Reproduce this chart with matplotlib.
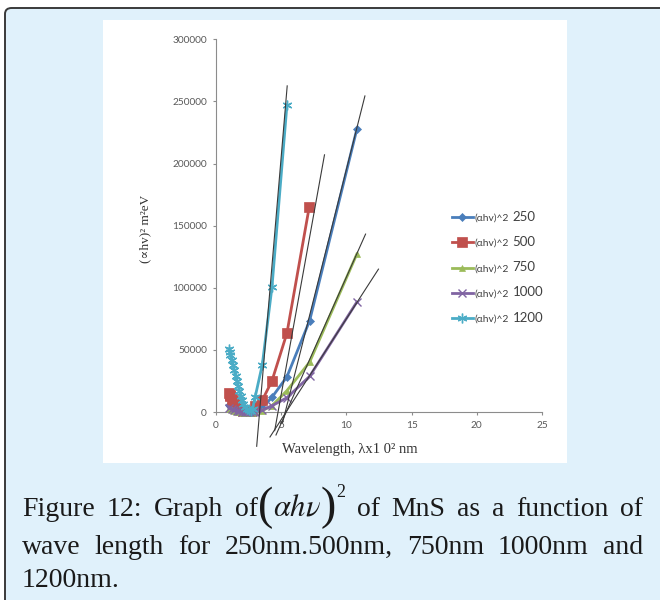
import matplotlib
matplotlib.use("Agg")
import matplotlib.pyplot as plt
from matplotlib.patches import FancyBboxPatch, Rectangle

# ---------------- data ----------------
series_labels = ["250", "500", "750", "1000", "1200"]
legend_prefix = "(\u03b1hv)^2"

x_250 = [1.0, 1.1, 1.2, 1.3, 1.5, 1.7, 1.9, 2.1, 2.3, 2.5, 2.7, 3.0, 3.55, 4.29, 5.44, 7.18, 10.8]
y_250 = [6000, 5200, 4400, 3600, 2600, 1800, 1200, 800, 500, 400, 500, 900, 3500, 11800, 28400, 73500, 227600]

x_500 = [1.0, 1.05, 1.1, 1.2, 1.3, 1.4, 1.5, 1.7, 1.9, 2.1, 2.3, 2.5, 2.7, 3.0, 3.55, 4.29, 5.44, 7.15]
y_500 = [15500, 14000, 12500, 10500, 9000, 7500, 6000, 3500, 2000, 1200, 800, 700, 1200, 5000, 9500, 25000, 63500, 165000]

x_750 = [1.0, 1.2, 1.4, 1.6, 1.8, 2.0, 2.2, 2.4, 2.6, 2.8, 3.0, 3.55, 4.29, 5.44, 7.18, 10.8]
y_750 = [2500, 1500, 800, 200, -300, -800, -1000, -1000, -900, -600, -200, 1200, 5000, 17200, 40200, 127100]

x_1000 = [1.0, 1.2, 1.4, 1.6, 1.8, 2.0, 2.2, 2.4, 2.6, 2.8, 3.0, 3.55, 4.29, 5.44, 7.18, 10.8]
y_1000 = [3500, 2500, 1700, 1000, 500, 100, -200, -300, -300, -200, 0, 1500, 5000, 11500, 28700, 88500]

x_1200 = [1.0, 1.05, 1.1, 1.2, 1.3, 1.4, 1.5, 1.6, 1.7, 1.8, 1.9, 2.0, 2.1, 2.2, 2.35, 2.5, 2.65, 2.8, 3.0, 3.55, 4.29, 5.44]
y_1200 = [51000, 48500, 46000, 42000, 38000, 33500, 29000, 25000, 21000, 17000, 13000, 9500, 6500, 4000, 2200, 1400, 1200, 2500, 12000, 38000, 100300, 247200]

# straight-line fits drawn over the data (end points)
fit_250_x = [5.1, 11.42]
fit_250_y = [-8800, 254400]
fit_500_x = [4.5, 8.32]
fit_500_y = [-15000, 207000]
fit_750_x = [4.6, 11.47]
fit_750_y = [-18500, 143200]
fit_1000_x = [4.14, 12.46]
fit_1000_y = [-20100, 115000]
fit_1200_x = [3.12, 5.46]
fit_1200_y = [-27600, 262500]

x_ticks = [0, 5, 10, 15, 20, 25]
y_ticks = [0, 50000, 100000, 150000, 200000, 250000, 300000]

# ---------------- figure ----------------
W, H = 660, 600
plt.rcParams["mathtext.fontset"] = "stix"
fig = plt.figure(figsize=(W / 100, H / 100), dpi=100)
fig.patch.set_facecolor("white")

def fx(px):
    return px / W

def fy(py):
    return 1 - py / H

# outer light-blue frame
frame = FancyBboxPatch((fx(5), fy(640)), fx(700) - fx(5), fy(8) - fy(640),
                       boxstyle="round,pad=0,rounding_size=0.01",
                       transform=fig.transFigure, facecolor="#E0F1FB",
                       edgecolor="#3a3a3a", linewidth=1.4, zorder=0)
fig.patches.append(frame)
# white chart area
fig.patches.append(Rectangle((fx(103), fy(463)), fx(567) - fx(103), fy(20) - fy(463),
                             transform=fig.transFigure, facecolor="white",
                             edgecolor="none", zorder=0.5))

ax_l, ax_r, ax_t, ax_b = 216, 542, 39.3, 412
ax = fig.add_axes([fx(ax_l), fy(ax_b), fx(ax_r) - fx(ax_l), fy(ax_t) - fy(ax_b)])
ax.set_facecolor("none")
ax.set_zorder(2)

colors = ["#4A7EBB", "#C0504D", "#9BBB59", "#8064A2", "#4BACC6"]
markers = ["D", "s", "^", "x", (6, 2, 0)]
msizes = [4.0, 6.5, 5.0, 5.5, 7.0]
xs = [x_250, x_500, x_750, x_1000, x_1200]
ys = [y_250, y_500, y_750, y_1000, y_1200]

handles = []
for x, y, c, m, s in zip(xs, ys, colors, markers, msizes):
    mew = 1.0 if m in ("x",) or isinstance(m, tuple) else 0.5
    h, = ax.plot(x, y, color=c, lw=2.0, marker=m, ms=s, mec=c, mfc=c, mew=mew,
                 clip_on=False, zorder=3)
    handles.append(h)

for fxv, fyv in [(fit_250_x, fit_250_y), (fit_500_x, fit_500_y), (fit_750_x, fit_750_y),
                 (fit_1000_x, fit_1000_y), (fit_1200_x, fit_1200_y)]:
    ax.plot(fxv, fyv, color="#3a3a3a", lw=0.8, clip_on=False, zorder=4)

ax.set_xlim(0, 25)
ax.set_ylim(0, 300000)
ax.set_xticks(x_ticks)
ax.set_yticks(y_ticks)
ax.set_xticklabels([str(v) for v in x_ticks])
ax.set_yticklabels([str(v) for v in y_ticks])
for sp in ("top", "right"):
    ax.spines[sp].set_visible(False)
for sp in ("left", "bottom"):
    ax.spines[sp].set_color("#8c8c8c")
    ax.spines[sp].set_linewidth(0.8)
ax.tick_params(axis="both", colors="#8c8c8c", length=2.5, width=0.8, labelcolor="#595959",
               labelsize=7.3, pad=4)
for lab in ax.get_xticklabels() + ax.get_yticklabels():
    lab.set_family("Lato")

ax.set_ylabel("(\u221dhv)\u00b2 m\u00b2eV", family=["Liberation Serif", "DejaVu Serif"],
              fontsize=9.5, color="#333333")
ax.yaxis.set_label_coords((145 - ax_l) / (ax_r - ax_l), (ax_b - 229) / (ax_b - ax_t))
ax.yaxis.label.set_va("center")
ax.set_xlabel("Wavelength, \u03bbx1 0\u00b2 nm", family=["Liberation Serif", "DejaVu Serif"],
              fontsize=10.5, color="#333333")
ax.xaxis.set_label_coords((350 - ax_l) / (ax_r - ax_l), -(450 - ax_b) / (ax_b - ax_t))
ax.xaxis.label.set_va("center")

leg = ax.legend(handles, [legend_prefix] * 5, loc="upper left",
                bbox_to_anchor=((452 - ax_l) / (ax_r - ax_l), (ax_b - 213.5) / (ax_b - ax_t)),
                frameon=False, handlelength=2.0, handletextpad=0.15, labelspacing=1.56,
                borderpad=0, borderaxespad=0, prop={"family": "Lato", "size": 7.4})
for t in leg.get_texts():
    t.set_color("#404040")

fig.canvas.draw()
renderer = fig.canvas.get_renderer()
for t, num in zip(leg.get_texts(), series_labels):
    bb = t.get_window_extent(renderer)
    fig.text((bb.x1 + 4) / W, (bb.y0 + bb.y1) / 2 / H + 1.5 / H, num, va="center", ha="left",
             fontsize=9.5, family="Lato", color="#404040")

# ---------------- caption (justified lines) ----------------
cap_font = dict(family=["Liberation Serif", "DejaVu Serif"], fontsize=20, color="#1a1a1a")
paren_font = {**cap_font, "fontsize": 33}
math_font = {**cap_font, "fontsize": 22}
sup_font = {**cap_font, "fontsize": 13}
left_px, right_px = 22, 643

# word groups: (text, style, vertical offset in px)
line1 = [[("Figure", cap_font, 0)], [("12:", cap_font, 0)], [("Graph", cap_font, 0)],
         [("of", cap_font, 0), ("(", paren_font, 3), (r"$\alpha h\nu$", math_font, 0),
          (")", paren_font, 3), ("2", sup_font, -19)],
         [("of", cap_font, 0)], [("MnS", cap_font, 0)], [("as", cap_font, 0)], [("a", cap_font, 0)],
         [("function", cap_font, 0)], [("of", cap_font, 0)]]
line2 = [[(w, cap_font, 0)] for w in ["wave", "length", "for", "250nm.500nm,", "750nm", "1000nm", "and"]]
line3 = [[("1200nm.", cap_font, 0)]]

def width_of(s, kw):
    t = fig.text(0, 0, s, **kw)
    w = t.get_window_extent(renderer).width
    t.remove()
    return w

def place_line(groups, y_px, justify=True):
    widths = [[width_of(s, kw) for s, kw, _ in grp] for grp in groups]
    tot = sum(sum(w) for w in widths)
    gap = (right_px - left_px - tot) / (len(groups) - 1) if (justify and len(groups) > 1) else 8
    x = left_px
    for grp, ws in zip(groups, widths):
        for (s, kw, dy), w in zip(grp, ws):
            fig.text(fx(x), fy(y_px + dy), s, ha="left", va="baseline", **kw)
            x += w
        x += gap

place_line(line1, 516)
place_line(line2, 554)
place_line(line3, 587, justify=False)

fig.savefig("out.png", dpi=100, facecolor=fig.get_facecolor())
